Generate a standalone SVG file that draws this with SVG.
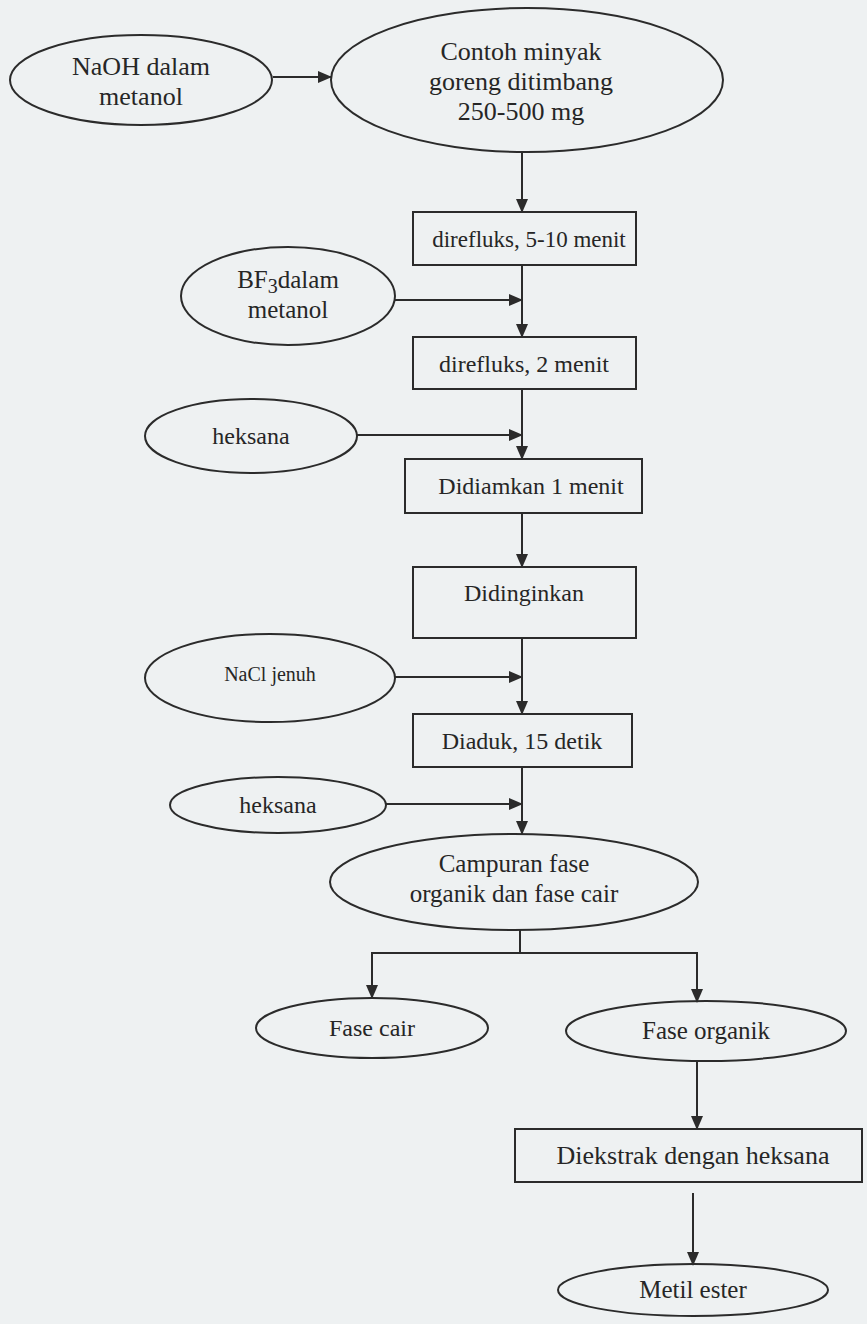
<svg xmlns="http://www.w3.org/2000/svg" width="867" height="1324" viewBox="0 0 867 1324">
<style>
.bg{fill:#eef1f2}
.n{fill:none;stroke:#2b2b2b;stroke-width:2}
.t{font-family:"Liberation Serif","Times New Roman",serif;font-size:24px;fill:#262626;text-anchor:middle}
.l{font-size:26px}
.m{font-size:25px}
.b{font-size:23px}
.s{font-size:20px}
.c{fill:none;stroke:#2b2b2b;stroke-width:2}
</style>
<defs>
<marker id="ah" markerWidth="14" markerHeight="12" refX="13" refY="6" orient="auto" markerUnits="userSpaceOnUse">
<path d="M0,0 L14,6 L0,12 Z" fill="#2b2b2b"/>
</marker>
</defs>
<rect class="bg" x="0" y="0" width="867" height="1324"/>

<g id="connectors">
<line class="c" x1="273" y1="77" x2="331" y2="77" marker-end="url(#ah)"/>
<line class="c" x1="522" y1="152" x2="522" y2="212" marker-end="url(#ah)"/>
<line class="c" x1="522" y1="265" x2="522" y2="337" marker-end="url(#ah)"/>
<line class="c" x1="395" y1="300" x2="522" y2="300" marker-end="url(#ah)"/>
<line class="c" x1="522" y1="389" x2="522" y2="459" marker-end="url(#ah)"/>
<line class="c" x1="357" y1="435" x2="522" y2="435" marker-end="url(#ah)"/>
<line class="c" x1="522" y1="513" x2="522" y2="567" marker-end="url(#ah)"/>
<line class="c" x1="522" y1="638" x2="522" y2="714" marker-end="url(#ah)"/>
<line class="c" x1="395" y1="677" x2="522" y2="677" marker-end="url(#ah)"/>
<line class="c" x1="522" y1="767" x2="522" y2="834" marker-end="url(#ah)"/>
<line class="c" x1="386" y1="804" x2="522" y2="804" marker-end="url(#ah)"/>
<polyline class="c" points="520,930 520,953 372,953 372,998" marker-end="url(#ah)"/>
<polyline class="c" points="520,953 697,953 697,1002" marker-end="url(#ah)"/>
<line class="c" x1="697" y1="1061" x2="697" y2="1129" marker-end="url(#ah)"/>
<line class="c" x1="693" y1="1193" x2="693" y2="1265" marker-end="url(#ah)"/>
</g>

<g id="naoh">
<ellipse class="n" cx="141" cy="80" rx="131" ry="45"/>
<text class="t l" x="141" y="75">NaOH dalam</text>
<text class="t l" x="141" y="105">metanol</text>
</g>
<g id="contoh">
<ellipse class="n" cx="527" cy="80" rx="196" ry="72"/>
<text class="t l" x="521" y="60">Contoh minyak</text>
<text class="t l" x="521" y="90">goreng ditimbang</text>
<text class="t l" x="521" y="120">250-500 mg</text>
</g>
<g id="reflux1">
<rect class="n" x="413" y="212" width="223" height="53"/>
<text class="t b" x="529" y="247">direfluks, 5-10 menit</text>
</g>
<g id="bf3">
<ellipse class="n" cx="288" cy="296" rx="107" ry="49"/>
<text class="t m" x="288" y="288">BF<tspan class="s" dy="5">3</tspan><tspan dy="-5">dalam</tspan></text>
<text class="t m" x="288" y="318">metanol</text>
</g>
<g id="reflux2">
<rect class="n" x="413" y="337" width="223" height="52"/>
<text class="t" x="524" y="372">direfluks, 2 menit</text>
</g>
<g id="heksana1">
<ellipse class="n" cx="251" cy="436" rx="106" ry="37"/>
<text class="t" x="251" y="444">heksana</text>
</g>
<g id="didiamkan">
<rect class="n" x="405" y="459" width="237" height="54"/>
<text class="t" x="531" y="494">Didiamkan 1 menit</text>
</g>
<g id="didinginkan">
<rect class="n" x="413" y="567" width="223" height="71"/>
<text class="t" x="524" y="601">Didinginkan</text>
</g>
<g id="nacl">
<ellipse class="n" cx="270" cy="678" rx="125" ry="44"/>
<text class="t s" x="270" y="681">NaCl jenuh</text>
</g>
<g id="diaduk">
<rect class="n" x="413" y="714" width="219" height="53"/>
<text class="t" x="522" y="749">Diaduk, 15 detik</text>
</g>
<g id="heksana2">
<ellipse class="n" cx="278" cy="805" rx="108" ry="28"/>
<text class="t" x="278" y="813">heksana</text>
</g>
<g id="campuran">
<ellipse class="n" cx="514" cy="882" rx="184" ry="48"/>
<text class="t m" x="514" y="872">Campuran fase</text>
<text class="t m" x="514" y="902">organik dan fase cair</text>
</g>
<g id="fasecair">
<ellipse class="n" cx="372" cy="1028" rx="116" ry="30"/>
<text class="t" x="372" y="1036">Fase cair</text>
</g>
<g id="faseorganik">
<ellipse class="n" cx="706" cy="1031" rx="140" ry="30"/>
<text class="t m" x="706" y="1039">Fase organik</text>
</g>
<g id="diekstrak">
<rect class="n" x="515" y="1129" width="347" height="53"/>
<text class="t l" x="693" y="1164">Diekstrak dengan heksana</text>
</g>
<g id="metil">
<ellipse class="n" cx="693" cy="1290" rx="135" ry="26"/>
<text class="t m" x="693" y="1298">Metil ester</text>
</g>
</svg>
